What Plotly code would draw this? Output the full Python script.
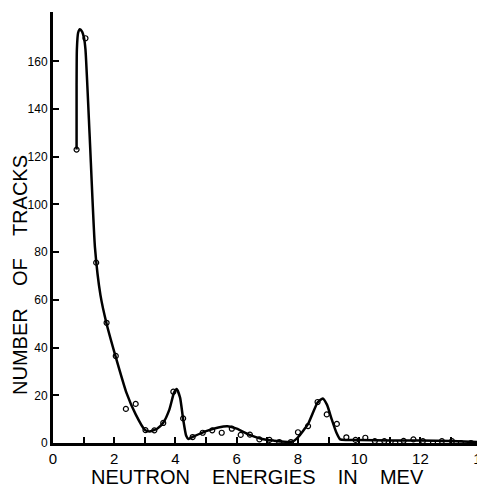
import plotly.graph_objects as go

# Measured data points (open circles)
pt_energy = [0.77, 1.06, 1.41, 1.75, 2.05, 2.38, 2.70, 3.02, 3.31, 3.60, 3.93, 4.25,
             4.56, 4.89, 5.20, 5.51, 5.84, 6.13, 6.43, 6.74, 7.07, 7.39, 7.77,
             8.00, 8.33, 8.64, 8.94, 9.27, 9.58, 9.88, 10.20,
             10.51, 10.82, 11.18, 11.45, 11.77, 12.08, 12.41, 12.70, 13.03, 13.32, 13.65, 13.95]
pt_tracks = [123, 169.7, 75.6, 50.4, 36.5, 14.3, 16.4, 5.4, 5.3, 8.4, 21.5, 10.3,
             2.5, 4.3, 5.3, 4.3, 6.0, 3.4, 3.5, 1.5, 1.3, 0.4, 0.4,
             4.5, 7.1, 17.2, 12.0, 8.0, 2.4, 1.3, 2.2,
             0.8, 0.8, 0.0, 0.9, 1.5, 0.8, 0.0, 0.8, 0.8, 0.0, 0.0, 0.5]

# Smooth fitted curve
curve_energy = [0.77, 0.77, 0.78, 0.82, 0.88, 0.95, 1.01, 1.06, 1.20, 1.37, 1.55, 1.75, 2.05,
                2.40, 2.70, 3.00, 3.15, 3.40, 3.60, 3.80, 3.95, 4.04, 4.15, 4.25, 4.35,
                4.42, 4.60, 5.00, 5.40, 5.70, 6.00, 6.40, 6.80, 7.20, 7.80, 8.00, 8.33,
                8.64, 8.81, 8.95, 9.10, 9.25, 9.38, 9.60, 10.00, 11.00, 12.00, 13.00, 14.00]
curve_tracks = [123, 150, 165, 172, 173.5, 172.5, 170, 165, 128, 82, 62, 50, 36,
                21, 12, 5.5, 4.8, 6.0, 8.5, 14, 21, 22.6, 19, 10, 3,
                1.7, 2.8, 5.0, 6.5, 7.0, 6.0, 3.5, 1.8, 1.0, 0.5, 2.4, 8.0,
                17, 18.7, 16, 10, 4.5, 1.5, 1.3, 1.3, 1.0, 1.0, 0.8, 0.3]

x_ticks = [0, 2, 4, 6, 8, 10, 12, 14]
y_ticks = [0, 20, 40, 60, 80, 100, 120, 140, 160]

FONT = "Liberation Sans, Arial, sans-serif"
sp = "\u00a0" * 4

# The page body adds an 8px margin, so the figure is sized/offset to compensate
fig = go.Figure()
fig.add_trace(go.Scatter(
    x=curve_energy, y=curve_tracks, mode="lines",
    line=dict(color="black", width=2.5, shape="spline", smoothing=0.5),
    hoverinfo="skip", showlegend=False))
fig.add_trace(go.Scatter(
    x=pt_energy, y=pt_tracks, mode="markers",
    marker=dict(symbol="circle-open", size=5, color="black", line=dict(width=1.2)),
    showlegend=False))

fig.update_layout(
    width=477, height=483,
    margin=dict(l=45, r=3, t=4, b=48),
    paper_bgcolor="white", plot_bgcolor="white",
    font=dict(family=FONT, color="black"),
    xaxis=dict(
        range=[0, 14.01], tickmode="array", tickvals=x_ticks,
        ticktext=[str(v) for v in x_ticks], automargin=False,
        ticklabeloverflow="allow",
        ticks="inside", ticklen=6, tickwidth=1.5, tickcolor="black",
        minor=dict(ticks="inside", ticklen=6, tickwidth=1.5, tickcolor="black", dtick=1),
        showline=True, linecolor="black", linewidth=2.5,
        showgrid=False, zeroline=False,
        tickfont=dict(size=15, family=FONT),
    ),
    yaxis=dict(
        range=[0, 180.7], tickmode="array", tickvals=y_ticks,
        ticktext=[str(v) for v in y_ticks], automargin=False,
        ticks="inside", ticklen=6, tickwidth=1.5, tickcolor="black",
        showline=True, linecolor="black", linewidth=3,
        showgrid=False, zeroline=False,
        tickfont=dict(size=12, family=FONT),
    ),
    annotations=[
        dict(text="NEUTRON" + sp + "ENERGIES" + sp + "IN" + sp + "MEV",
             xref="paper", yref="paper", x=(257 - 53) / 429, y=-(477 - 443) / 431,
             xanchor="center", yanchor="middle", showarrow=False,
             font=dict(size=20, family=FONT)),
        dict(text="NUMBER" + sp + "OF" + sp + "TRACKS", textangle=-90,
             xref="paper", yref="paper", x=-(53 - 20) / 429, y=(443 - 275) / 431,
             xanchor="center", yanchor="middle", showarrow=False,
             font=dict(size=20, family=FONT)),
    ],
)

fig.write_html("out.html")
